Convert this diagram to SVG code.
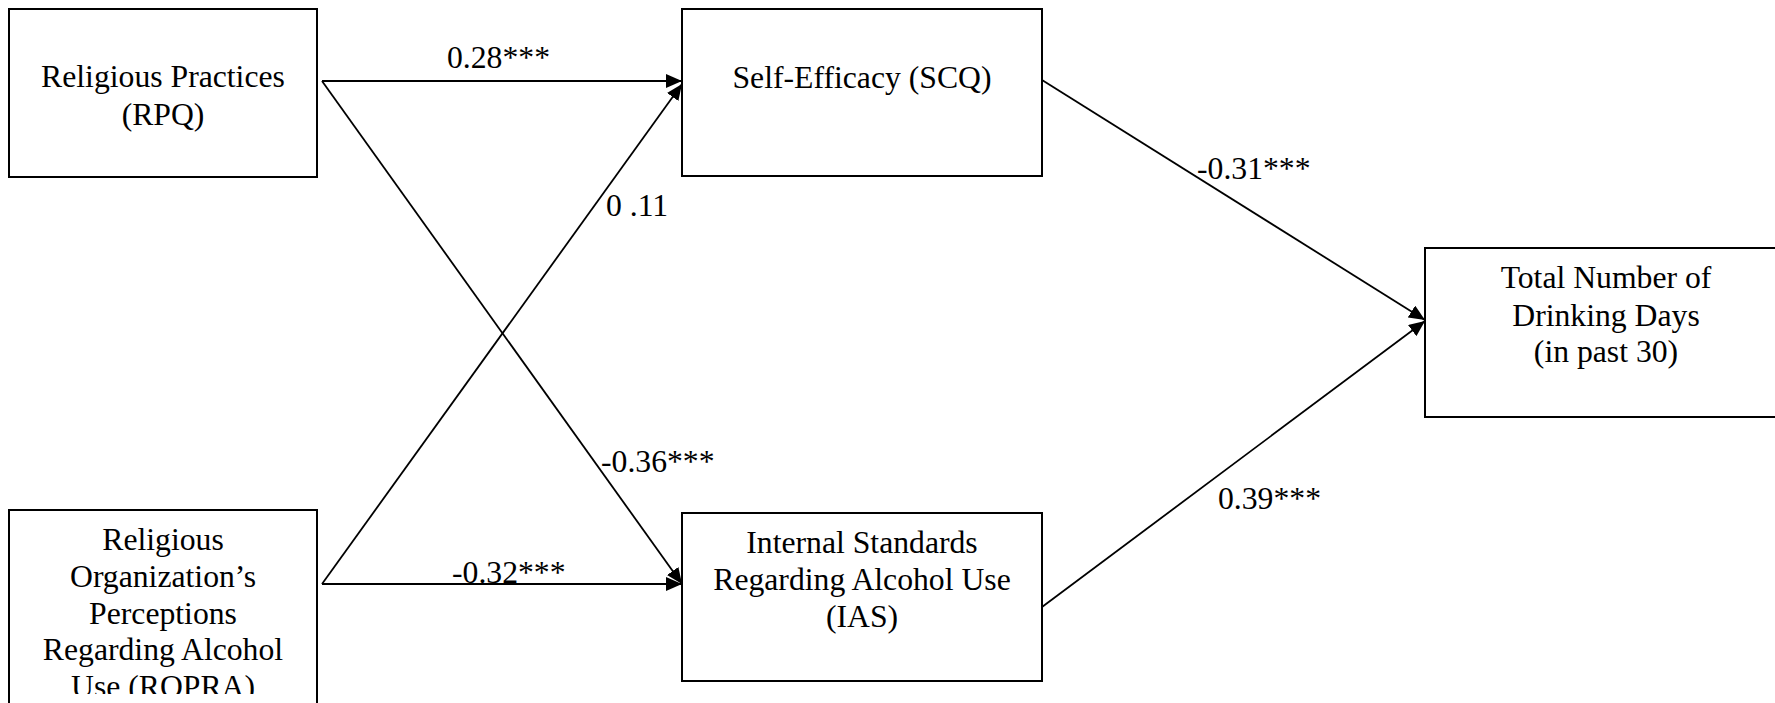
<svg xmlns="http://www.w3.org/2000/svg" width="1775" height="703" viewBox="0 0 1775 703">
<style>
.box{fill:#fff;stroke:#000;stroke-width:2}
.t{font-family:"Liberation Serif","Times New Roman",serif;font-size:31.7px;fill:#000}
.c{text-anchor:middle}
.ln{stroke:#000;stroke-width:1.8;fill:none;marker-end:url(#ah)}
</style>
<defs>
<marker id="ah" markerUnits="userSpaceOnUse" markerWidth="16" markerHeight="14" refX="16" refY="7" orient="auto" viewBox="0 0 16 14">
<path d="M0,0 L16,7 L0,14 z" fill="#000"/>
</marker>
<clipPath id="clipR"><rect x="0" y="0" width="330" height="694"/></clipPath>
</defs>
<rect width="1775" height="703" fill="#fff"/>
<g id="connectors">
<line class="ln" x1="322" y1="81" x2="682" y2="81"/>
<line class="ln" x1="322" y1="81" x2="682" y2="584"/>
<line class="ln" x1="322" y1="584" x2="682" y2="84"/>
<line class="ln" x1="322" y1="584" x2="682" y2="584"/>
<line class="ln" x1="1042" y1="80" x2="1425" y2="320"/>
<line class="ln" x1="1042" y1="607" x2="1425" y2="321"/>
<text class="t" x="447" y="68">0.28***</text>
<text class="t" x="601" y="472">-0.36***</text>
<text class="t" x="606" y="216">0 .11</text>
<text class="t" x="452" y="583">-0.32***</text>
<text class="t" x="1197" y="179">-0.31***</text>
<text class="t" x="1218" y="509">0.39***</text>
</g>
<g id="rpq">
<rect class="box" x="9" y="9" width="308" height="168"/>
<text class="t c" x="163" y="87">Religious Practices</text>
<text class="t c" x="163" y="125">(RPQ)</text>
</g>
<g id="scq">
<rect class="box" x="682" y="9" width="360" height="167"/>
<text class="t c" x="862" y="88">Self-Efficacy (SCQ)</text>
</g>
<g id="ropra">
<rect class="box" x="9" y="510" width="308" height="220"/>
<g clip-path="url(#clipR)">
<text class="t c" x="163" y="550">Religious</text>
<text class="t c" x="163" y="587">Organization’s</text>
<text class="t c" x="163" y="624">Perceptions</text>
<text class="t c" x="163" y="660">Regarding Alcohol</text>
<text class="t c" x="163" y="697">Use (ROPRA)</text>
</g>
</g>
<g id="ias">
<rect class="box" x="682" y="513" width="360" height="168"/>
<text class="t c" x="862" y="553">Internal Standards</text>
<text class="t c" x="862" y="590">Regarding Alcohol Use</text>
<text class="t c" x="862" y="627">(IAS)</text>
</g>
<g id="total">
<rect class="box" x="1425" y="248" width="360" height="169"/>
<text class="t c" x="1606" y="288">Total Number of</text>
<text class="t c" x="1606" y="326">Drinking Days</text>
<text class="t c" x="1606" y="362">(in past 30)</text>
</g>
</svg>
